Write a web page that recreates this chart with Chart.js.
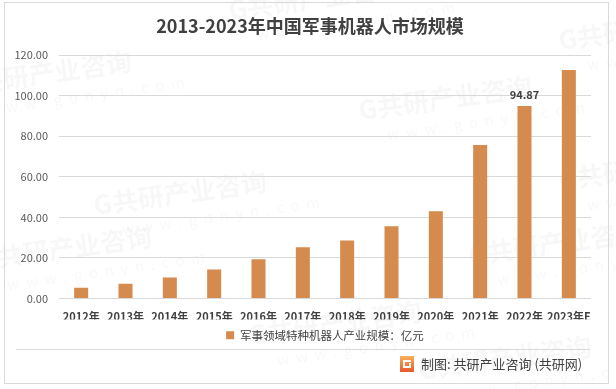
<!DOCTYPE html>
<html>
<head>
<meta charset="utf-8">
<script src="https://cdn.jsdelivr.net/npm/chart.js@4.4.1/dist/chart.umd.min.js"></script>
<style>
  html, body { margin: 0; padding: 0; background: #ffffff; }
  canvas { display: block; }
</style>
</head>
<body>
<canvas id="c" width="616" height="389"></canvas>
<script>
const titleText = '2013-2023年中国军事机器人市场规模';
const categories = ['2012年', '2013年', '2014年', '2015年', '2016年', '2017年', '2018年', '2019年', '2020年', '2021年', '2022年', '2023年E'];
const seriesName = '军事领域特种机器人产业规模：亿元';
const seriesValues = [5.3, 7.3, 10.3, 14.3, 19.3, 25.2, 28.6, 35.6, 43.0, 75.6, 94.87, 112.6];
const labelledIndex = [10];
const yTicks = [0, 20, 40, 60, 80, 100, 120];
const footerText = '制图: 共研产业咨询 (共研网)';

const FONT = '"Noto Sans CJK SC", "Noto Sans", sans-serif';
const BAR = '#D48B4D';

const decorPlugin = {
  id: 'decor',
  beforeDraw(chart) {
    const ctx = chart.ctx;
    ctx.save();
    ctx.fillStyle = '#ffffff';
    ctx.fillRect(0, 0, chart.width, chart.height);
    // faint watermarks
    const marks = [[95, 215], [360, 120], [560, 50], [-40, 95], [-20, 270], [250, 345], [470, 265], [230, 20], [560, 190], [420, 380]];
    ctx.fillStyle = 'rgba(0,0,0,0.03)';
    marks.forEach(([x, y]) => {
      ctx.save();
      ctx.translate(x, y);
      ctx.rotate(-0.14);
      ctx.font = 'bold 26px ' + FONT;
      ctx.textBaseline = 'alphabetic';
      ctx.fillText('G共研产业咨询', 0, 0);
      ctx.font = '15px ' + FONT;
      ctx.fillText('w  w  w  .  g  o  n  y  n  .  c  o  m', 25, 24);
      ctx.restore();
    });
    // outer border
    ctx.strokeStyle = '#d9d9d9';
    ctx.lineWidth = 1;
    ctx.strokeRect(4.5, 2.5, 604, 381);
    // separator
    ctx.beginPath();
    ctx.moveTo(16, 349.5);
    ctx.lineTo(590, 349.5);
    ctx.stroke();
    // title
    ctx.fillStyle = '#404040';
    ctx.font = 'bold 18px ' + FONT;
    ctx.textAlign = 'center';
    ctx.textBaseline = 'middle';
    ctx.fillText(titleText, 310, 26);
    // footer logo
    const lx = 400, ly = 356;
    const g = ctx.createLinearGradient(lx, ly, lx, ly + 16);
    g.addColorStop(0, '#f6b25a');
    g.addColorStop(1, '#e8572d');
    ctx.fillStyle = g;
    ctx.fillRect(lx, ly, 14, 16);
    ctx.fillStyle = '#ffffff';
    ctx.fillRect(lx + 3, ly + 4, 8, 2);
    ctx.fillRect(lx + 3, ly + 4, 2, 8);
    ctx.fillRect(lx + 3, ly + 10, 8, 2);
    ctx.fillRect(lx + 9, ly + 7, 2, 5);
    // footer text
    ctx.fillStyle = '#404040';
    ctx.font = '13px ' + FONT;
    ctx.textAlign = 'left';
    ctx.fillText(footerText, 421, 364.5);
    ctx.restore();
  },
  afterDatasetsDraw(chart) {
    const ctx = chart.ctx;
    const meta = chart.getDatasetMeta(0);
    ctx.save();
    ctx.fillStyle = '#404040';
    ctx.font = 'bold 11px ' + FONT;
    ctx.textAlign = 'center';
    ctx.textBaseline = 'bottom';
    labelledIndex.forEach(i => {
      const el = meta.data[i];
      ctx.fillText(seriesValues[i].toFixed(2), el.x, el.y - 6);
    });
    ctx.restore();
  }
};

new Chart(document.getElementById('c'), {
  type: 'bar',
  data: {
    labels: categories,
    datasets: [{
      label: seriesName,
      data: seriesValues,
      backgroundColor: BAR,
      borderWidth: 0,
      categoryPercentage: 1.0,
      barPercentage: 0.316
    }]
  },
  options: {
    responsive: false,
    animation: false,
    devicePixelRatio: 1,
    layout: { padding: { top: 55, left: 0, right: 25, bottom: 38 } },
    plugins: {
      title: { display: false },
      tooltip: { enabled: false },
      legend: {
        display: true,
        position: 'bottom',
        fullSize: false,
        labels: {
          boxWidth: 8,
          boxHeight: 8,
          padding: 10,
          color: '#404040',
          font: { family: FONT, size: 11.5 }
        }
      }
    },
    scales: {
      x: {
        grid: { display: false, drawTicks: false },
        border: { display: false },
        ticks: {
          color: '#404040',
          font: { family: FONT, size: 11, weight: 'bold' },
          padding: 12,
          maxRotation: 0,
          autoSkip: false
        },
        afterFit(scale) { scale.height = 21; }
      },
      y: {
        min: 0,
        max: 120,
        afterBuildTicks(scale) { scale.ticks = yTicks.map(v => ({ value: v })); },
        grid: { color: '#d9d9d9', drawTicks: false, lineWidth: 1 },
        border: { display: false },
        ticks: {
          color: '#595959',
          font: { family: FONT, size: 11 },
          padding: 11,
          callback: v => Number(v).toFixed(2)
        },
        afterFit(scale) { scale.width = 59; }
      }
    }
  },
  plugins: [decorPlugin]
});
</script>
</body>
</html>
